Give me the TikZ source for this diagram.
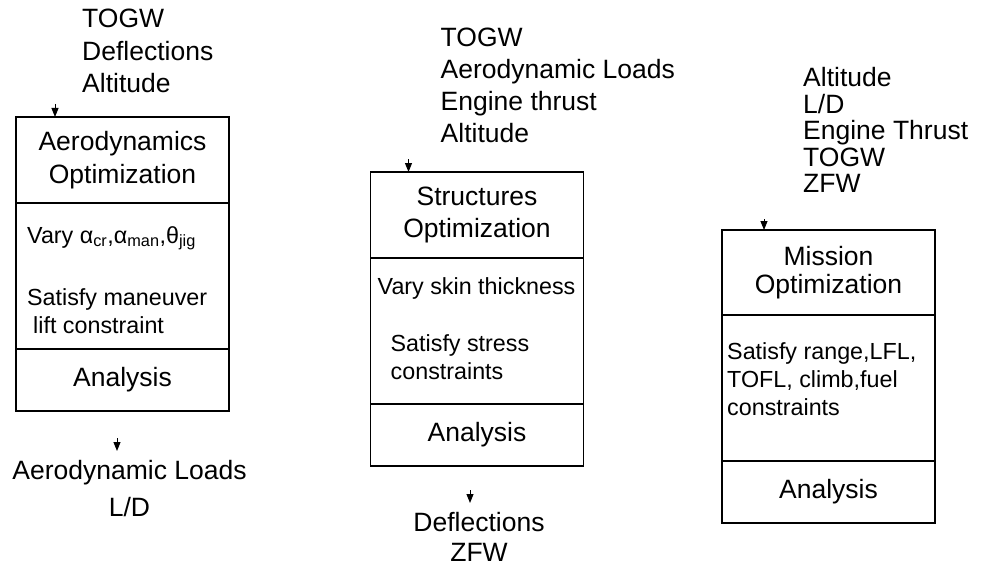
\documentclass[tikz,border=0pt]{standalone}
\usepackage{fontspec}
\setmainfont{Liberation Sans}
\usetikzlibrary{positioning, arrows.meta}

\newcommand{\bigtxt}{\fontsize{26.5}{32.5}\selectfont}
\newcommand{\smalltxt}{\fontsize{23.3}{28}\selectfont}

\tikzset{
  optbox/.style={draw, line width=1.3pt, minimum width=213pt, inner sep=0pt, outer sep=0pt},
  titlebox/.style={optbox, minimum height=86pt, align=center, font=\bigtxt},
  bodybox/.style={optbox, minimum height=146pt},
  anabox/.style={optbox, minimum height=62pt, font=\bigtxt},
  varlist/.style={align=left, inner sep=0pt, font=\bigtxt},
  bodytxt/.style={align=left, inner sep=0pt, font=\smalltxt},
  feed/.style={-{Triangle[width=7pt,length=9pt]}, line width=1pt}
}

\begin{document}
\begin{tikzpicture}[x=1pt, y=-1pt, node distance=0pt]
   \useasboundingbox (0,0) rectangle (981,567);

   \node[titlebox, anchor=north] (aero) at (122.5,117) {Aerodynamics\\Optimization};
   \node[bodybox] (aero_body) [below=of aero] {};
   \node[anabox] (aero_ana) [below=of aero_body] {Analysis};
   \node[bodytxt] (aero_txt) [below right=23pt and 11pt of aero_body.north west]
      {Vary α\textsubscript{cr},α\textsubscript{man},θ\textsubscript{jig}\\[34pt]Satisfy maneuver\\\hspace*{6pt}lift constraint};
   \node[varlist] (aero_in) [above right=24pt and 66pt of aero.north west] {TOGW\\Deflections\\Altitude};
   \node[varlist, align=center, font=\fontsize{26.5}{37}\selectfont] (aero_out) [below=49pt of aero_ana, xshift=7pt] {Aerodynamic Loads\\L/D};

   \node[titlebox, anchor=north] (struct) at (477,172) {Structures\\Optimization};
   \node[bodybox] (struct_body) [below=of struct] {};
   \node[anabox] (struct_ana) [below=of struct_body] {Analysis};
   \node[bodytxt] (struct_txt) [below right=19pt and 7pt of struct_body.north west]
      {Vary skin thickness\\[29pt]\hspace*{13pt}Satisfy stress\\\hspace*{13pt}constraints};
   \node[varlist, font=\fontsize{26.5}{32}\selectfont] (struct_in) [above right=29pt and 70pt of struct.north west]
      {TOGW\\Aerodynamic Loads\\Engine thrust\\Altitude};
   \node[varlist, align=center, font=\fontsize{26.5}{30}\selectfont] (struct_out) [below=46pt of struct_ana, xshift=2pt] {Deflections\\ZFW};

   \node[titlebox, anchor=north, minimum height=85pt, font=\fontsize{26.5}{28}\selectfont] (mission) at (828.5,230) {Mission\\Optimization};
   \node[bodybox] (mission_body) [below=of mission] {};
   \node[anabox] (mission_ana) [below=of mission_body] {Analysis};
   \node[bodytxt] (mission_txt) [below right=27pt and 5pt of mission_body.north west]
      {Satisfy range,LFL,\\TOFL, climb,fuel\\constraints};
   \node[varlist, font=\fontsize{26.5}{26.5}\selectfont] (mission_in) [above right=37pt and 81pt of mission.north west]
      {Altitude\\L/D\\Engine Thrust\\TOGW\\ZFW};

   \coordinate (aero_feed) at ([xshift=39pt, yshift=13pt]aero.north west);
   \coordinate (aero_drop) at ([xshift=-5.5pt, yshift=-27pt]aero_ana.south);
   \coordinate (struct_feed) at ([xshift=38pt, yshift=13pt]struct.north west);
   \coordinate (struct_drop) at ([xshift=-7pt, yshift=-24pt]struct_ana.south);
   \coordinate (mission_feed) at ([xshift=42pt, yshift=11pt]mission.north west);

   \path[feed]
    (aero_feed) edge (aero_feed |- aero.north)
    (aero_drop) edge [shorten >=9pt] (aero_drop |- aero_out.north)
    (struct_feed) edge (struct_feed |- struct.north)
    (struct_drop) edge [shorten >=9pt] (struct_drop |- struct_out.north)
    (mission_feed) edge (mission_feed |- mission.north)
    ;
\end{tikzpicture}
\end{document}
